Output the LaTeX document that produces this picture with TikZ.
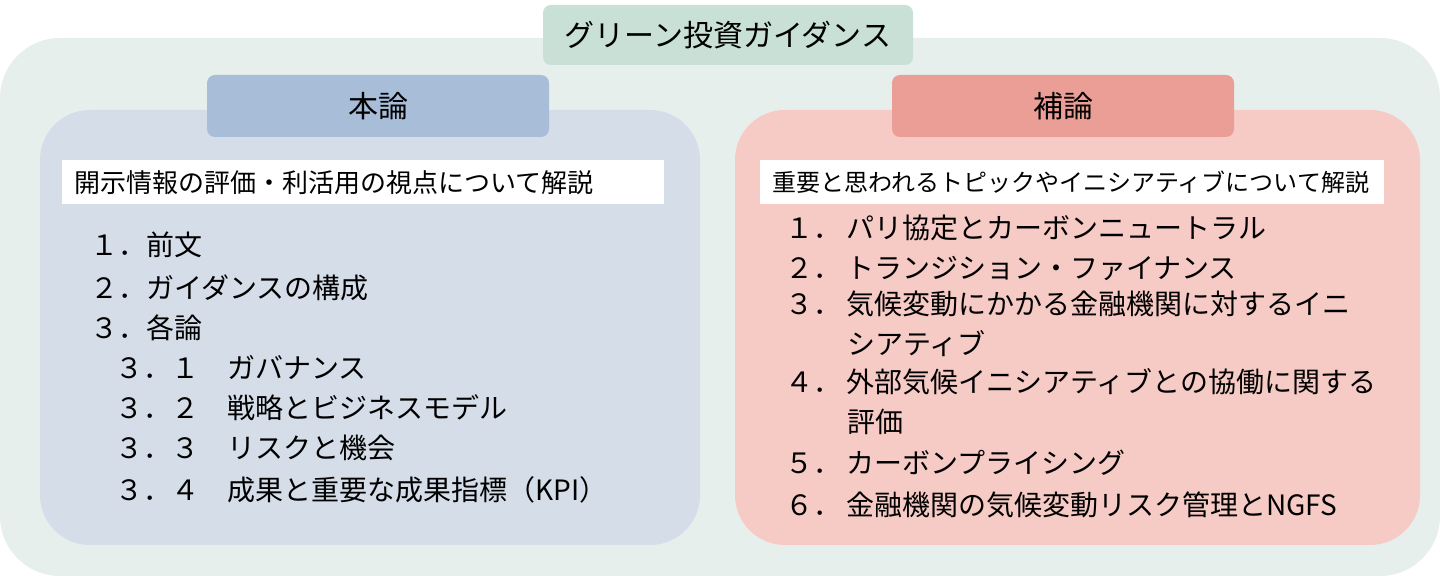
\documentclass[tikz,border=0pt]{standalone}
\usepackage{fontspec}
\newfontfamily\cjk{Noto Sans CJK JP}
\definecolor{outerbg}{HTML}{E6EFEB}
\definecolor{titlebg}{HTML}{C8E0D5}
\definecolor{mainbg}{HTML}{D5DDE9}
\definecolor{mainhd}{HTML}{A8BDD8}
\definecolor{subbg}{HTML}{F6CAC5}
\definecolor{subhd}{HTML}{EB9E95}
\begin{document}
\begin{tikzpicture}
	[x=0.5pt,y=-0.5pt,every node/.style={font=\cjk},
	 head/.style={fill, rounded corners=4pt, minimum width=171pt, minimum height=31pt, font=\cjk\fontsize{15}{18}\selectfont},
	 band/.style={fill=white, anchor=north west, minimum width=301pt, minimum height=22pt, inner xsep=6pt, text width=289pt, align=left, font=\cjk\fontsize{13}{15}\selectfont},
	 item/.style={anchor=west, inner sep=0pt, align=left, font=\cjk\fontsize{14}{20}\selectfont}]
	\useasboundingbox (0,0) rectangle (1440,576);
	\fill[outerbg, rounded corners=30pt] (0,38) rectangle (1440,576);
	\fill[mainbg, rounded corners=25pt] (40,110) rectangle (700,545);
	\fill[subbg, rounded corners=25pt] (735,110) rectangle (1420,545);
	\node[head, fill=titlebg, minimum width=185pt, minimum height=30pt] (title) at (728,35) {グリーン投資ガイダンス};
	\node[head, fill=mainhd] (main) at (378,106) {本論};
	\node[head, fill=subhd] (sub) at (1063,106) {補論};

	\node[band] (mainband) at (62,160) {開示情報の評価・利活用の視点について解説};
	\node[band, minimum width=312pt, text width=300pt, font=\cjk\fontsize{12}{14}\selectfont] (subband) at (760,160) {重要と思われるトピックやイニシアティブについて解説};

	\node[item] (m1) at (90,245) {１．前文};
	\node[item] (m2) at (90,288) {２．ガイダンスの構成};
	\node[item] (m3) at (90,328) {３．各論};
	\node[item] (m31) at (115,368) {３．１　ガバナンス};
	\node[item] (m32) at (115,408) {３．２　戦略とビジネスモデル};
	\node[item] (m33) at (115,448) {３．３　リスクと機会};
	\node[item] (m34) at (115,490) {３．４　成果と重要な成果指標（KPI）};

	\node[item] (s1) at (785,228) {１．\,パリ協定とカーボンニュートラル};
	\node[item] (s2) at (785,268) {２．\,トランジション・ファイナンス};
	\node[item, anchor=north west] (s3) at (785,291) {３．\,気候変動にかかる金融機関に対するイニ\\\hspace*{2.2em}シアティブ};
	\node[item, anchor=north west] (s4) at (785,368) {４．\,外部気候イニシアティブとの協働に関する\\\hspace*{2.2em}評価};
	\node[item] (s5) at (785,463) {５．\,カーボンプライシング};
	\node[item] (s6) at (785,505) {６．\,金融機関の気候変動リスク管理とNGFS};
\end{tikzpicture}
\end{document}
